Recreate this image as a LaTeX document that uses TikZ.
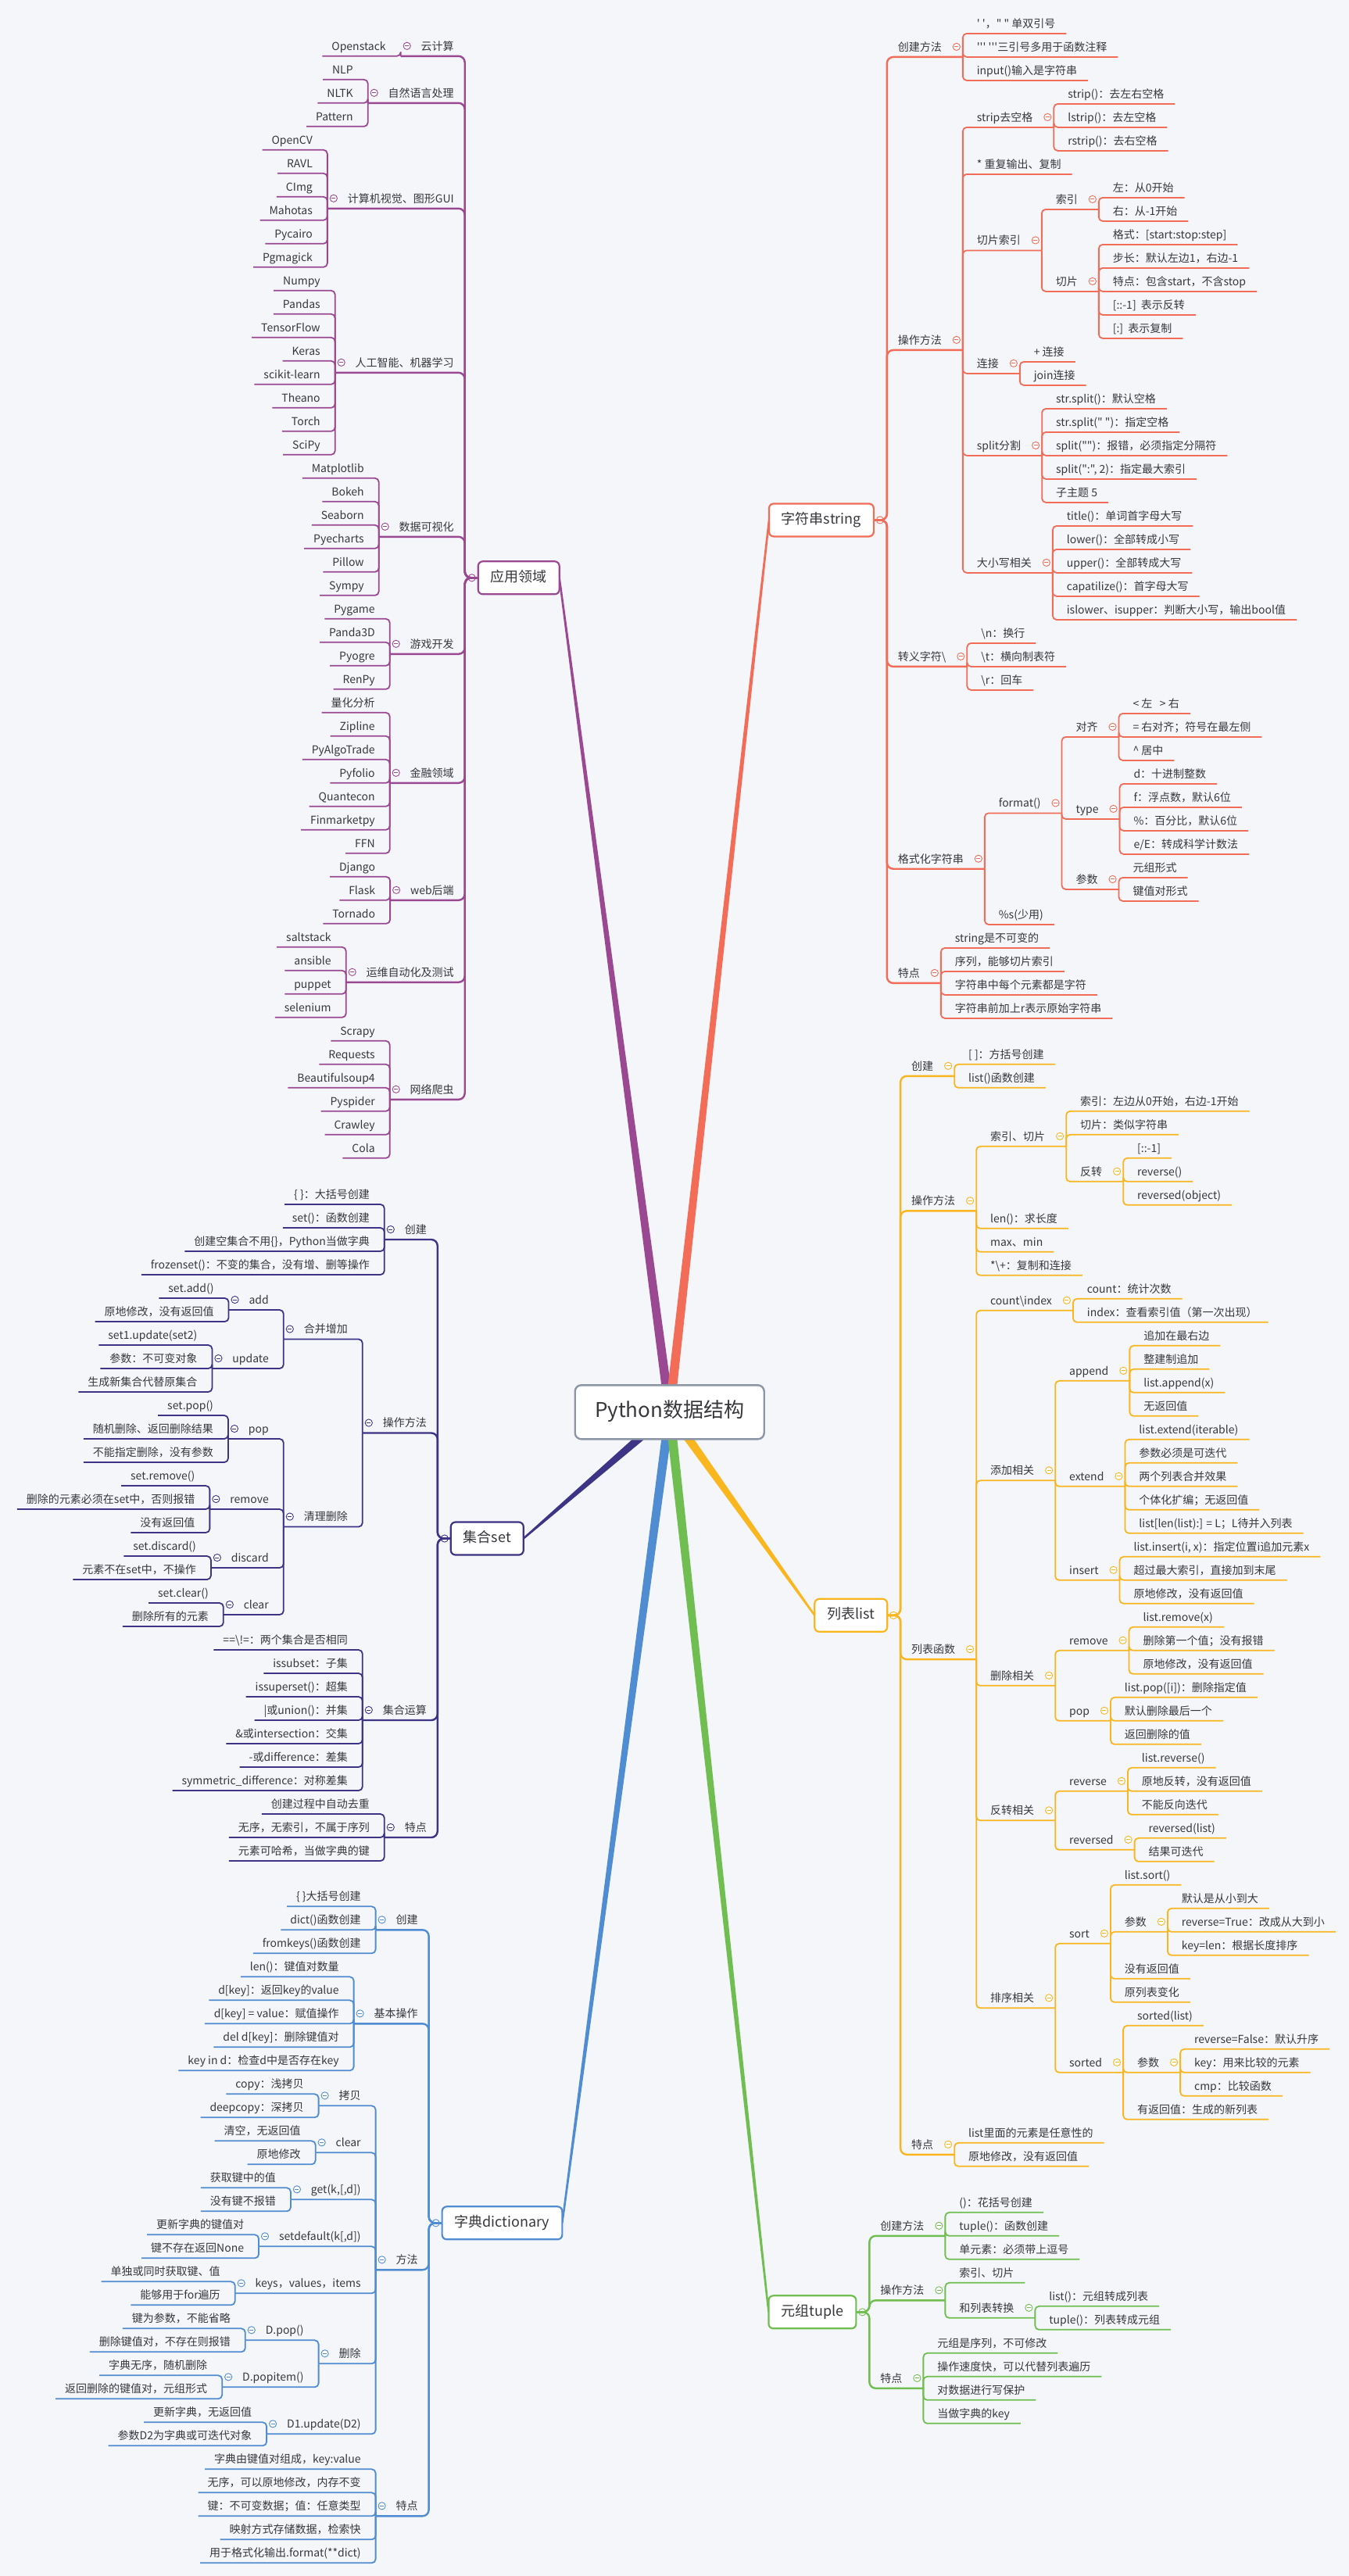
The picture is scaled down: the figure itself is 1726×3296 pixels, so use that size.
\documentclass[tikz,border=0pt]{standalone}
\usepackage{fontspec}
\newfontfamily\cjk{Noto Sans CJK SC}
\usetikzlibrary{calc,backgrounds}
\definecolor{bgc}{RGB}{244,246,250}
\definecolor{txt}{RGB}{55,55,60}
\definecolor{rootc}{RGB}{140,150,165}
\definecolor{colA}{RGB}{155,72,146}
\definecolor{colS}{RGB}{242,108,88}
\definecolor{colJ}{RGB}{62,52,134}
\definecolor{colL}{RGB}{250,182,30}
\definecolor{colD}{RGB}{80,140,210}
\definecolor{colY}{RGB}{112,190,82}
\tikzset{
  every node/.style={font=\cjk\fontsize{14}{17}\selectfont, text=txt, inner xsep=0pt, inner ysep=4pt, text height=11pt, text depth=3.7pt, outer sep=0pt},
  r1/.style={anchor=south west, execute at begin node={\hspace*{14pt}}, execute at end node={\hspace*{27pt}}},
  rp/.style={anchor=south west, execute at begin node={\hspace*{18pt}}, execute at end node={\hspace*{27pt}}},
  rl/.style={anchor=south west, execute at begin node={\hspace*{18pt}}, execute at end node={\hspace*{14pt}}},
  l1/.style={anchor=south east, execute at begin node={\hspace*{26pt}}, execute at end node={\hspace*{14pt}}},
  lp/.style={anchor=south east, execute at begin node={\hspace*{26pt}}, execute at end node={\hspace*{19pt}}},
  ll/.style={anchor=south east, execute at begin node={\hspace*{12pt}}, execute at end node={\hspace*{19pt}}},
  cn/.style={line width=1.8pt, rounded corners=5pt, line join=round},
  mcn/.style={line width=2.4pt, rounded corners=8pt, line join=round},
  mbox/.style={draw, line width=2.2pt, fill=white, rounded corners=6pt, font=\cjk\fontsize{18}{21}\selectfont, inner xsep=16pt, inner ysep=0pt, minimum height=42pt, text height=13.5pt, text depth=4pt, anchor=center},
  rootbox/.style={draw=rootc, line width=2.4pt, fill=white, rounded corners=8pt, font=\cjk\fontsize{26}{30}\selectfont, minimum width=242pt, minimum height=69pt, inner sep=0pt, text height=19pt, text depth=5pt, anchor=center},
  tog/.pic={\draw[line width=0.9pt, fill=white] (0,0) circle (4.6); \draw[line width=0.9pt] (-2.5,0) -- (2.5,0);}
}
\newcommand\myR[5]{\node[#1] (#3) at (#2.south east |- 0,#4) {#5}; \draw[cn] (#2.south east) |- (#3.south east);}
\newcommand\myL[5]{\node[#1] (#3) at (#2.south west |- 0,#4) {#5}; \draw[cn] (#2.south west) |- (#3.south west);}
\newcommand\myTR[1]{\path ($(#1.south east)+(-8,-13)$) pic{tog};}
\newcommand\myTL[1]{\path ($(#1.south west)+(8,-13)$) pic{tog};}
\newcommand\myMR[5]{\node[r1] (#3) at (#2 |- 0,#4) {#5}; \draw[mcn] (#1.east) -- (#2) |- (#3.south east);}
\newcommand\myML[5]{\node[l1] (#3) at (#2 |- 0,#4) {#5}; \draw[mcn] (#1.west) -- (#2) |- (#3.south west);}
\newcommand\myWedge[2]{\fill[#1] ($(root.center)!6pt!90:(#2)$) -- ($(#2)!1.2pt!-90:(root.center)$) -- ($(#2)!1.2pt!90:(root.center)$) -- ($(root.center)!6pt!-90:(#2)$) -- cycle;}
\begin{document}
\begin{tikzpicture}[x=1pt,y=-1pt]
\useasboundingbox (0,0) rectangle (1726,3296);
\begin{scope}[on background layer]
\fill[bgc] (0,0) rectangle (1726,3296);
\end{scope}
\node[rootbox] (root) at (856.7,1806.8) {Python数据结构};

% ================= 应用领域 =================
\begin{scope}[color=colA]
\node[mbox] (Abox) at (663.7,739.3) {应用领域};
\coordinate (Ab) at ($(Abox.west)+(-17,0)$);
\path ($(Abox.west)+(-8,0)$) pic{tog};
\myML{Abox}{Ab}{A1}{71.8}{云计算}\myTL{A1}
\myL{ll}{A1}{A1a}{71.8}{Openstack}
\myML{Abox}{Ab}{A2}{131.8}{自然语言处理}\myTL{A2}
\myL{ll}{A2}{A2a}{101.8}{NLP}
\myL{ll}{A2}{A2b}{131.8}{NLTK}
\myL{ll}{A2}{A2c}{161.8}{Pattern}
\myML{Abox}{Ab}{A3}{266.8}{计算机视觉、图形GUI}\myTL{A3}
\myL{ll}{A3}{A3a}{191.8}{OpenCV}
\myL{ll}{A3}{A3b}{221.8}{RAVL}
\myL{ll}{A3}{A3c}{251.8}{CImg}
\myL{ll}{A3}{A3d}{281.8}{Mahotas}
\myL{ll}{A3}{A3e}{311.8}{Pycairo}
\myL{ll}{A3}{A3f}{341.8}{Pgmagick}
\myML{Abox}{Ab}{A4}{476.8}{人工智能、机器学习}\myTL{A4}
\myL{ll}{A4}{A4a}{371.8}{Numpy}
\myL{ll}{A4}{A4b}{401.8}{Pandas}
\myL{ll}{A4}{A4c}{431.8}{TensorFlow}
\myL{ll}{A4}{A4d}{461.8}{Keras}
\myL{ll}{A4}{A4e}{491.8}{scikit-learn}
\myL{ll}{A4}{A4f}{521.8}{Theano}
\myL{ll}{A4}{A4g}{551.8}{Torch}
\myL{ll}{A4}{A4h}{581.8}{SciPy}
\myML{Abox}{Ab}{A5}{686.8}{数据可视化}\myTL{A5}
\myL{ll}{A5}{A5a}{611.8}{Matplotlib}
\myL{ll}{A5}{A5b}{641.8}{Bokeh}
\myL{ll}{A5}{A5c}{671.8}{Seaborn}
\myL{ll}{A5}{A5d}{701.8}{Pyecharts}
\myL{ll}{A5}{A5e}{731.8}{Pillow}
\myL{ll}{A5}{A5f}{761.8}{Sympy}
\myML{Abox}{Ab}{A6}{836.8}{游戏开发}\myTL{A6}
\myL{ll}{A6}{A6a}{791.8}{Pygame}
\myL{ll}{A6}{A6b}{821.8}{Panda3D}
\myL{ll}{A6}{A6c}{851.8}{Pyogre}
\myL{ll}{A6}{A6d}{881.8}{RenPy}
\myML{Abox}{Ab}{A7}{1001.8}{金融领域}\myTL{A7}
\myL{ll}{A7}{A7a}{911.8}{量化分析}
\myL{ll}{A7}{A7b}{941.8}{Zipline}
\myL{ll}{A7}{A7c}{971.8}{PyAlgoTrade}
\myL{ll}{A7}{A7d}{1001.8}{Pyfolio}
\myL{ll}{A7}{A7e}{1031.8}{Quantecon}
\myL{ll}{A7}{A7f}{1061.8}{Finmarketpy}
\myL{ll}{A7}{A7g}{1091.8}{FFN}
\myML{Abox}{Ab}{A8}{1151.8}{web后端}\myTL{A8}
\myL{ll}{A8}{A8a}{1121.8}{Django}
\myL{ll}{A8}{A8b}{1151.8}{Flask}
\myL{ll}{A8}{A8c}{1181.8}{Tornado}
\myML{Abox}{Ab}{A9}{1256.8}{运维自动化及测试}\myTL{A9}
\myL{ll}{A9}{A9a}{1211.8}{saltstack}
\myL{ll}{A9}{A9b}{1241.8}{ansible}
\myL{ll}{A9}{A9c}{1271.8}{puppet}
\myL{ll}{A9}{A9d}{1301.8}{selenium}
\myML{Abox}{Ab}{A10}{1406.8}{网络爬虫}\myTL{A10}
\myL{ll}{A10}{A10a}{1331.8}{Scrapy}
\myL{ll}{A10}{A10b}{1361.8}{Requests}
\myL{ll}{A10}{A10c}{1391.8}{Beautifulsoup4}
\myL{ll}{A10}{A10d}{1421.8}{Pyspider}
\myL{ll}{A10}{A10e}{1451.8}{Crawley}
\myL{ll}{A10}{A10f}{1481.8}{Cola}
\end{scope}

% ================= 字符串string =================
\begin{scope}[color=colS]
\node[mbox] (Sbox) at (1050.9,665.4) {字符串string};
\coordinate (Sb) at ($(Sbox.east)+(17,0)$);
\path ($(Sbox.east)+(8,0)$) pic{tog};
\myMR{Sbox}{Sb}{S1}{72.9}{创建方法}\myTR{S1}
\myR{rl}{S1}{S1a}{42.9}{' '，" " 单双引号}
\myR{rl}{S1}{S1b}{72.9}{''' '''三引号多用于函数注释}
\myR{rl}{S1}{S1c}{102.9}{input()输入是字符串}
\myMR{Sbox}{Sb}{S2}{447.9}{操作方法}\myTR{S2}
\myR{rp}{S2}{S2a}{162.9}{strip去空格}\myTR{S2a}
\myR{rl}{S2a}{S2a1}{132.9}{strip()：去左右空格}
\myR{rl}{S2a}{S2a2}{162.9}{lstrip()：去左空格}
\myR{rl}{S2a}{S2a3}{192.9}{rstrip()：去右空格}
\myR{rl}{S2}{S2b}{222.9}{* 重复输出、复制}
\myR{rp}{S2}{S2c}{320.4}{切片索引}\myTR{S2c}
\myR{rp}{S2c}{S2c1}{267.9}{索引}\myTR{S2c1}
\myR{rl}{S2c1}{S2c1a}{252.9}{左：从0开始}
\myR{rl}{S2c1}{S2c1b}{282.9}{右：从-1开始}
\myR{rp}{S2c}{S2c2}{372.9}{切片}\myTR{S2c2}
\myR{rl}{S2c2}{S2c2a}{312.9}{格式：[start:stop:step]}
\myR{rl}{S2c2}{S2c2b}{342.9}{步长：默认左边1，右边-1}
\myR{rl}{S2c2}{S2c2c}{372.9}{特点：包含start，不含stop}
\myR{rl}{S2c2}{S2c2d}{402.9}{[::-1]\ \ 表示反转}
\myR{rl}{S2c2}{S2c2e}{432.9}{[:]\ \ 表示复制}
\myR{rp}{S2}{S2d}{477.9}{连接}\myTR{S2d}
\myR{rl}{S2d}{S2d1}{462.9}{+ 连接}
\myR{rl}{S2d}{S2d2}{492.9}{join连接}
\myR{rp}{S2}{S2e}{582.9}{split分割}\myTR{S2e}
\myR{rl}{S2e}{S2e1}{522.9}{str.split()：默认空格}
\myR{rl}{S2e}{S2e2}{552.9}{str.split(" ")：指定空格}
\myR{rl}{S2e}{S2e3}{582.9}{split("")：报错，必须指定分隔符}
\myR{rl}{S2e}{S2e4}{612.9}{split(":", 2)：指定最大索引}
\myR{rl}{S2e}{S2e5}{642.9}{子主题 5}
\myR{rp}{S2}{S2f}{732.9}{大小写相关}\myTR{S2f}
\myR{rl}{S2f}{S2f1}{672.9}{title()：单词首字母大写}
\myR{rl}{S2f}{S2f2}{702.9}{lower()：全部转成小写}
\myR{rl}{S2f}{S2f3}{732.9}{upper()：全部转成大写}
\myR{rl}{S2f}{S2f4}{762.9}{capatilize()：首字母大写}
\myR{rl}{S2f}{S2f5}{792.9}{islower、isupper：判断大小写，输出bool值}
\myMR{Sbox}{Sb}{S3}{852.9}{转义字符\textbackslash}\myTR{S3}
\myR{rl}{S3}{S3a}{822.9}{\textbackslash n：换行}
\myR{rl}{S3}{S3b}{852.9}{\textbackslash t：横向制表符}
\myR{rl}{S3}{S3c}{882.9}{\textbackslash r：回车}
\myMR{Sbox}{Sb}{S4}{1111.7}{格式化字符串}\myTR{S4}
\myR{rp}{S4}{S4a}{1040.4}{format()}\myTR{S4a}
\myR{rp}{S4a}{S4a1}{942.9}{对齐}\myTR{S4a1}
\myR{rl}{S4a1}{S4a1a}{912.9}{<\ 左\ \ \ >\ 右}
\myR{rl}{S4a1}{S4a1b}{942.9}{=\ 右对齐；符号在最左侧}
\myR{rl}{S4a1}{S4a1c}{972.9}{\textasciicircum\ 居中}
\myR{rp}{S4a}{S4a2}{1047.9}{type}\myTR{S4a2}
\myR{rl}{S4a2}{S4a2a}{1002.9}{d：十进制整数}
\myR{rl}{S4a2}{S4a2b}{1032.9}{f：浮点数，默认6位}
\myR{rl}{S4a2}{S4a2c}{1062.9}{\%：百分比，默认6位}
\myR{rl}{S4a2}{S4a2d}{1092.9}{e/E：转成科学计数法}
\myR{rp}{S4a}{S4a3}{1137.9}{参数}\myTR{S4a3}
\myR{rl}{S4a3}{S4a3a}{1122.9}{元组形式}
\myR{rl}{S4a3}{S4a3b}{1152.9}{键值对形式}
\myR{rl}{S4}{S4b}{1182.9}{\%s(少用)}
\myMR{Sbox}{Sb}{S5}{1257.9}{特点}\myTR{S5}
\myR{rl}{S5}{S5a}{1212.9}{string是不可变的}
\myR{rl}{S5}{S5b}{1242.9}{序列，能够切片索引}
\myR{rl}{S5}{S5c}{1272.9}{字符串中每个元素都是字符}
\myR{rl}{S5}{S5d}{1302.9}{字符串前加上r表示原始字符串}
\end{scope}

% ================= 集合set =================
\begin{scope}[color=colJ]
\node[mbox] (Jbox) at (623.3,1968.5) {集合set};
\coordinate (Jb) at ($(Jbox.west)+(-17,0)$);
\path ($(Jbox.west)+(-8,0)$) pic{tog};
\myML{Jbox}{Jb}{J1}{1586}{创建}\myTL{J1}
\myL{ll}{J1}{J1a}{1541}{\{ \}：大括号创建}
\myL{ll}{J1}{J1b}{1571}{set()：函数创建}
\myL{ll}{J1}{J1c}{1601}{创建空集合不用\{\}，Python当做字典}
\myL{ll}{J1}{J1d}{1631}{frozenset()：不变的集合，没有增、删等操作}
\myML{Jbox}{Jb}{J2}{1833.5}{操作方法}\myTL{J2}
\myL{lp}{J2}{J2a}{1713.5}{合并增加}\myTL{J2a}
\myL{lp}{J2a}{J2a1}{1676}{add}\myTL{J2a1}
\myL{ll}{J2a1}{J2a1a}{1661}{set.add()}
\myL{ll}{J2a1}{J2a1b}{1691}{原地修改，没有返回值}
\myL{lp}{J2a}{J2a2}{1751}{update}\myTL{J2a2}
\myL{ll}{J2a2}{J2a2a}{1721}{set1.update(set2)}
\myL{ll}{J2a2}{J2a2b}{1751}{参数：不可变对象}
\myL{ll}{J2a2}{J2a2c}{1781}{生成新集合代替原集合}
\myL{lp}{J2}{J2b}{1953.5}{清理删除}\myTL{J2b}
\myL{lp}{J2b}{J2b1}{1841}{pop}\myTL{J2b1}
\myL{ll}{J2b1}{J2b1a}{1811}{set.pop()}
\myL{ll}{J2b1}{J2b1b}{1841}{随机删除、返回删除结果}
\myL{ll}{J2b1}{J2b1c}{1871}{不能指定删除，没有参数}
\myL{lp}{J2b}{J2b2}{1931}{remove}\myTL{J2b2}
\myL{ll}{J2b2}{J2b2a}{1901}{set.remove()}
\myL{ll}{J2b2}{J2b2b}{1931}{删除的元素必须在set中，否则报错}
\myL{ll}{J2b2}{J2b2c}{1961}{没有返回值}
\myL{lp}{J2b}{J2b3}{2006}{discard}\myTL{J2b3}
\myL{ll}{J2b3}{J2b3a}{1991}{set.discard()}
\myL{ll}{J2b3}{J2b3b}{2021}{元素不在set中，不操作}
\myL{lp}{J2b}{J2b4}{2066}{clear}\myTL{J2b4}
\myL{ll}{J2b4}{J2b4a}{2051}{set.clear()}
\myL{ll}{J2b4}{J2b4b}{2081}{删除所有的元素}
\myML{Jbox}{Jb}{J3}{2201}{集合运算}\myTL{J3}
\myL{ll}{J3}{J3a}{2111}{==\textbackslash!=：两个集合是否相同}
\myL{ll}{J3}{J3b}{2141}{issubset：子集}
\myL{ll}{J3}{J3c}{2171}{issuperset()：超集}
\myL{ll}{J3}{J3d}{2201}{|或union()：并集}
\myL{ll}{J3}{J3e}{2231}{\&或intersection：交集}
\myL{ll}{J3}{J3f}{2261}{-或difference：差集}
\myL{ll}{J3}{J3g}{2291}{symmetric\_difference：对称差集}
\myML{Jbox}{Jb}{J4}{2351}{特点}\myTL{J4}
\myL{ll}{J4}{J4a}{2321}{创建过程中自动去重}
\myL{ll}{J4}{J4b}{2351}{无序，无索引，不属于序列}
\myL{ll}{J4}{J4c}{2381}{元素可哈希，当做字典的键}
\end{scope}

% ================= 列表list =================
\begin{scope}[color=colL]
\node[mbox] (Lbox) at (1088.7,2066.8) {列表list};
\coordinate (Lb) at ($(Lbox.east)+(17,0)$);
\path ($(Lbox.east)+(8,0)$) pic{tog};
\myMR{Lbox}{Lb}{L1}{1376.8}{创建}\myTR{L1}
\myR{rl}{L1}{L1a}{1361.8}{[ ]：方括号创建}
\myR{rl}{L1}{L1b}{1391.8}{list()函数创建}
\myMR{Lbox}{Lb}{L2}{1549.3}{操作方法}\myTR{L2}
\myR{rp}{L2}{L2a}{1466.8}{索引、切片}\myTR{L2a}
\myR{rl}{L2a}{L2a1}{1421.8}{索引：左边从0开始，右边-1开始}
\myR{rl}{L2a}{L2a2}{1451.8}{切片：类似字符串}
\myR{rp}{L2a}{L2a3}{1511.8}{反转}\myTR{L2a3}
\myR{rl}{L2a3}{L2a3a}{1481.8}{[::-1]}
\myR{rl}{L2a3}{L2a3b}{1511.8}{reverse()}
\myR{rl}{L2a3}{L2a3c}{1541.8}{reversed(object)}
\myR{rl}{L2}{L2b}{1571.8}{len()：求长度}
\myR{rl}{L2}{L2c}{1601.8}{max、min}
\myR{rl}{L2}{L2d}{1631.8}{*\textbackslash+：复制和连接}
\myMR{Lbox}{Lb}{L3}{2123.1}{列表函数}\myTR{L3}
\myR{rp}{L3}{L3a}{1676.8}{count\textbackslash index}\myTR{L3a}
\myR{rl}{L3a}{L3a1}{1661.8}{count：统计次数}
\myR{rl}{L3a}{L3a2}{1691.8}{index：查看索引值（第一次出现）}
\myR{rp}{L3}{L3b}{1894.3}{添加相关}\myTR{L3b}
\myR{rp}{L3b}{L3b1}{1766.8}{append}\myTR{L3b1}
\myR{rl}{L3b1}{L3b1a}{1721.8}{追加在最右边}
\myR{rl}{L3b1}{L3b1b}{1751.8}{整建制追加}
\myR{rl}{L3b1}{L3b1c}{1781.8}{list.append(x)}
\myR{rl}{L3b1}{L3b1d}{1811.8}{无返回值}
\myR{rp}{L3b}{L3b2}{1901.8}{extend}\myTR{L3b2}
\myR{rl}{L3b2}{L3b2a}{1841.8}{list.extend(iterable)}
\myR{rl}{L3b2}{L3b2b}{1871.8}{参数必须是可迭代}
\myR{rl}{L3b2}{L3b2c}{1901.8}{两个列表合并效果}
\myR{rl}{L3b2}{L3b2d}{1931.8}{个体化扩编；无返回值}
\myR{rl}{L3b2}{L3b2e}{1961.8}{list[len(list):] = L；L待并入列表}
\myR{rp}{L3b}{L3b3}{2021.8}{insert}\myTR{L3b3}
\myR{rl}{L3b3}{L3b3a}{1991.8}{list.insert(i, x)：指定位置i追加元素x}
\myR{rl}{L3b3}{L3b3b}{2021.8}{超过最大索引，直接加到末尾}
\myR{rl}{L3b3}{L3b3c}{2051.8}{原地修改，没有返回值}
\myR{rp}{L3}{L3c}{2156.8}{删除相关}\myTR{L3c}
\myR{rp}{L3c}{L3c1}{2111.8}{remove}\myTR{L3c1}
\myR{rl}{L3c1}{L3c1a}{2081.8}{list.remove(x)}
\myR{rl}{L3c1}{L3c1b}{2111.8}{删除第一个值；没有报错}
\myR{rl}{L3c1}{L3c1c}{2141.8}{原地修改，没有返回值}
\myR{rp}{L3c}{L3c2}{2201.8}{pop}\myTR{L3c2}
\myR{rl}{L3c2}{L3c2a}{2171.8}{list.pop([i])：删除指定值}
\myR{rl}{L3c2}{L3c2b}{2201.8}{默认删除最后一个}
\myR{rl}{L3c2}{L3c2c}{2231.8}{返回删除的值}
\myR{rp}{L3}{L3d}{2329.3}{反转相关}\myTR{L3d}
\myR{rp}{L3d}{L3d1}{2291.8}{reverse}\myTR{L3d1}
\myR{rl}{L3d1}{L3d1a}{2261.8}{list.reverse()}
\myR{rl}{L3d1}{L3d1b}{2291.8}{原地反转，没有返回值}
\myR{rl}{L3d1}{L3d1c}{2321.8}{不能反向迭代}
\myR{rp}{L3d}{L3d2}{2366.8}{reversed}\myTR{L3d2}
\myR{rl}{L3d2}{L3d2a}{2351.8}{reversed(list)}
\myR{rl}{L3d2}{L3d2b}{2381.8}{结果可迭代}
\myR{rp}{L3}{L3e}{2569.3}{排序相关}\myTR{L3e}
\myR{rp}{L3e}{L3e1}{2486.8}{sort}\myTR{L3e1}
\myR{rl}{L3e1}{L3e1a}{2411.8}{list.sort()}
\myR{rp}{L3e1}{L3e1b}{2471.8}{参数}\myTR{L3e1b}
\myR{rl}{L3e1b}{L3e1b1}{2441.8}{默认是从小到大}
\myR{rl}{L3e1b}{L3e1b2}{2471.8}{reverse=True：改成从大到小}
\myR{rl}{L3e1b}{L3e1b3}{2501.8}{key=len：根据长度排序}
\myR{rl}{L3e1}{L3e1c}{2531.8}{没有返回值}
\myR{rl}{L3e1}{L3e1d}{2561.8}{原列表变化}
\myR{rp}{L3e}{L3e2}{2651.8}{sorted}\myTR{L3e2}
\myR{rl}{L3e2}{L3e2a}{2591.8}{sorted(list)}
\myR{rp}{L3e2}{L3e2b}{2651.8}{参数}\myTR{L3e2b}
\myR{rl}{L3e2b}{L3e2b1}{2621.8}{reverse=False：默认升序}
\myR{rl}{L3e2b}{L3e2b2}{2651.8}{key：用来比较的元素}
\myR{rl}{L3e2b}{L3e2b3}{2681.8}{cmp：比较函数}
\myR{rl}{L3e2}{L3e2c}{2711.8}{有返回值：生成的新列表}
\myMR{Lbox}{Lb}{L4}{2756.8}{特点}\myTR{L4}
\myR{rl}{L4}{L4a}{2741.8}{list里面的元素是任意性的}
\myR{rl}{L4}{L4b}{2771.8}{原地修改，没有返回值}
\end{scope}

% ================= 字典dictionary =================
\begin{scope}[color=colD]
\node[mbox] (Dbox) at (642.5,2844.3) {字典dictionary};
\coordinate (Db) at ($(Dbox.west)+(-17,0)$);
\path ($(Dbox.west)+(-8,0)$) pic{tog};
\myML{Dbox}{Db}{D1}{2469.3}{创建}\myTL{D1}
\myL{ll}{D1}{D1a}{2439.3}{\{ \}大括号创建}
\myL{ll}{D1}{D1b}{2469.3}{dict()函数创建}
\myL{ll}{D1}{D1c}{2499.3}{fromkeys()函数创建}
\myML{Dbox}{Db}{D2}{2589.3}{基本操作}\myTL{D2}
\myL{ll}{D2}{D2a}{2529.3}{len()：键值对数量}
\myL{ll}{D2}{D2b}{2559.3}{d[key]：返回key的value}
\myL{ll}{D2}{D2c}{2589.3}{d[key] = value：赋值操作}
\myL{ll}{D2}{D2d}{2619.3}{del d[key]：删除键值对}
\myL{ll}{D2}{D2e}{2649.3}{key in d：检查d中是否存在key}
\myML{Dbox}{Db}{D3}{2904.3}{方法}\myTL{D3}
\myL{lp}{D3}{D3a}{2694.3}{拷贝}\myTL{D3a}
\myL{ll}{D3a}{D3a1}{2679.3}{copy：浅拷贝}
\myL{ll}{D3a}{D3a2}{2709.3}{deepcopy：深拷贝}
\myL{lp}{D3}{D3b}{2754.3}{clear}\myTL{D3b}
\myL{ll}{D3b}{D3b1}{2739.3}{清空，无返回值}
\myL{ll}{D3b}{D3b2}{2769.3}{原地修改}
\myL{lp}{D3}{D3c}{2814.3}{get(k,[,d])}\myTL{D3c}
\myL{ll}{D3c}{D3c1}{2799.3}{获取键中的值}
\myL{ll}{D3c}{D3c2}{2829.3}{没有键不报错}
\myL{lp}{D3}{D3d}{2874.3}{setdefault(k[,d])}\myTL{D3d}
\myL{ll}{D3d}{D3d1}{2859.3}{更新字典的键值对}
\myL{ll}{D3d}{D3d2}{2889.3}{键不存在返回None}
\myL{lp}{D3}{D3e}{2934.3}{keys，values，items}\myTL{D3e}
\myL{ll}{D3e}{D3e1}{2919.3}{单独或同时获取键、值}
\myL{ll}{D3e}{D3e2}{2949.3}{能够用于for遍历}
\myL{lp}{D3}{D3f}{3024.3}{删除}\myTL{D3f}
\myL{lp}{D3f}{D3f1}{2994.3}{D.pop()}\myTL{D3f1}
\myL{ll}{D3f1}{D3f1a}{2979.3}{键为参数，不能省略}
\myL{ll}{D3f1}{D3f1b}{3009.3}{删除键值对，不存在则报错}
\myL{lp}{D3f}{D3f2}{3054.3}{D.popitem()}\myTL{D3f2}
\myL{ll}{D3f2}{D3f2a}{3039.3}{字典无序，随机删除}
\myL{ll}{D3f2}{D3f2b}{3069.3}{返回删除的键值对，元组形式}
\myL{lp}{D3}{D3g}{3114.3}{D1.update(D2)}\myTL{D3g}
\myL{ll}{D3g}{D3g1}{3099.3}{更新字典，无返回值}
\myL{ll}{D3g}{D3g2}{3129.3}{参数D2为字典或可迭代对象}
\myML{Dbox}{Db}{D4}{3219.3}{特点}\myTL{D4}
\myL{ll}{D4}{D4a}{3159.3}{字典由键值对组成，key:value}
\myL{ll}{D4}{D4b}{3189.3}{无序，可以原地修改，内存不变}
\myL{ll}{D4}{D4c}{3219.3}{键：不可变数据；值：任意类型}
\myL{ll}{D4}{D4d}{3249.3}{映射方式存储数据，检索快}
\myL{ll}{D4}{D4e}{3279.3}{用于格式化输出.format(**dict)}
\end{scope}

% ================= 元组tuple =================
\begin{scope}[color=colY]
\node[mbox] (Ybox) at (1039.4,2958.3) {元组tuple};
\coordinate (Yb) at ($(Ybox.east)+(17,0)$);
\path ($(Ybox.east)+(8,0)$) pic{tog};
\myMR{Ybox}{Yb}{Y1}{2860.8}{创建方法}\myTR{Y1}
\myR{rl}{Y1}{Y1a}{2830.8}{()：花括号创建}
\myR{rl}{Y1}{Y1b}{2860.8}{tuple()：函数创建}
\myR{rl}{Y1}{Y1c}{2890.8}{单元素：必须带上逗号}
\myMR{Ybox}{Yb}{Y2}{2943.3}{操作方法}\myTR{Y2}
\myR{rl}{Y2}{Y2a}{2920.8}{索引、切片}
\myR{rp}{Y2}{Y2b}{2965.8}{和列表转换}\myTR{Y2b}
\myR{rl}{Y2b}{Y2b1}{2950.8}{list()：元组转成列表}
\myR{rl}{Y2b}{Y2b2}{2980.8}{tuple()：列表转成元组}
\myMR{Ybox}{Yb}{Y3}{3055.8}{特点}\myTR{Y3}
\myR{rl}{Y3}{Y3a}{3010.8}{元组是序列，不可修改}
\myR{rl}{Y3}{Y3b}{3040.8}{操作速度快，可以代替列表遍历}
\myR{rl}{Y3}{Y3c}{3070.8}{对数据进行写保护}
\myR{rl}{Y3}{Y3d}{3100.8}{当做字典的key}
\end{scope}

% ================= root wedges =================
\begin{scope}[on background layer]
\myWedge{colA}{Abox.east}
\myWedge{colS}{Sbox.west}
\myWedge{colJ}{Jbox.east}
\myWedge{colL}{Lbox.west}
\myWedge{colD}{Dbox.east}
\myWedge{colY}{Ybox.west}
\end{scope}
\end{tikzpicture}
\end{document}
